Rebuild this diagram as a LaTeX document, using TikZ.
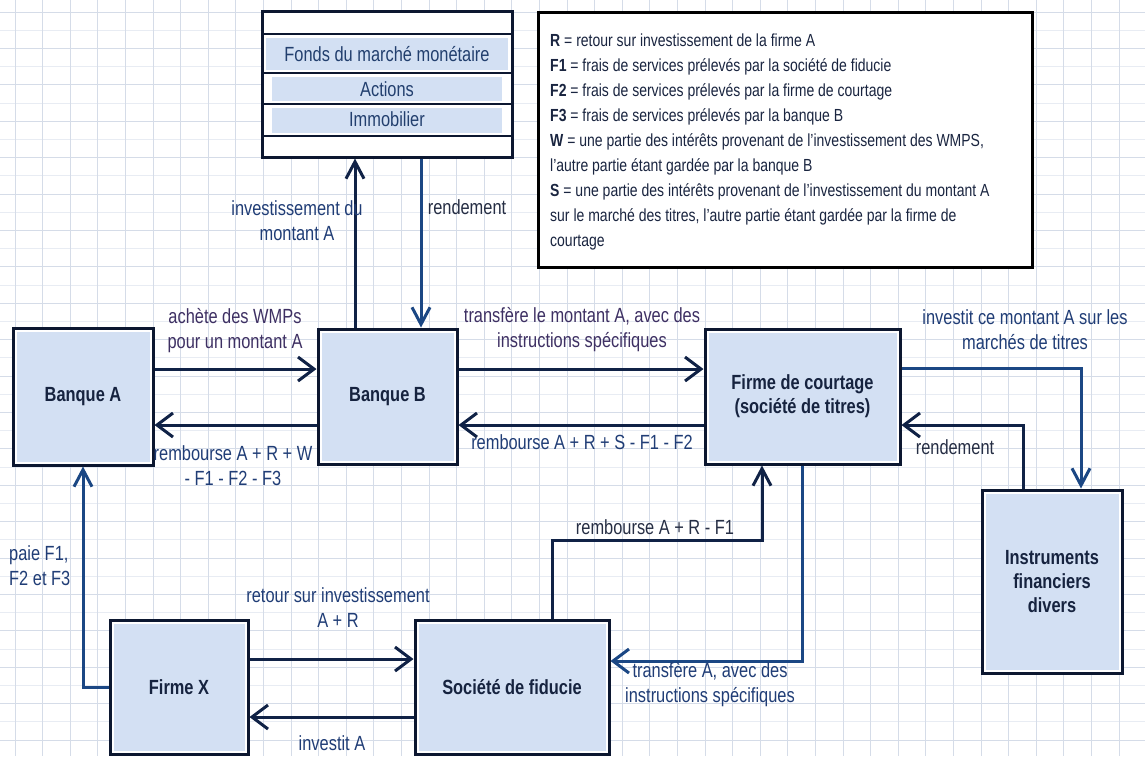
\documentclass[tikz,border=0pt]{standalone}
\usepackage{fontspec}
\setmainfont[FakeStretch=0.8]{Liberation Sans}
\usetikzlibrary{arrows.meta}
\definecolor{boxline}{HTML}{0C1730}
\definecolor{boxfill}{HTML}{D3E0F3}
\definecolor{arrowdark}{HTML}{102246}
\definecolor{arrowblue}{HTML}{1B4784}
\definecolor{nodetext}{HTML}{16233F}
\definecolor{labblue}{HTML}{203D76}
\definecolor{labpurple}{HTML}{3E3063}
\definecolor{labdark}{HTML}{262E44}
\definecolor{legtext}{HTML}{1A2540}
\definecolor{rowtext}{HTML}{223F6E}
\definecolor{gridmajor}{HTML}{D5DCE8}
\definecolor{gridminor}{HTML}{E8ECF3}

\begin{document}
\begin{tikzpicture}[x=1pt,y=-1pt,
  box/.style={draw=boxline, line width=3pt, fill=white, inner sep=0pt, align=center,
    text=nodetext, font=\fontsize{20.5}{24}\selectfont\bfseries,
    path picture={\fill[boxfill] ([xshift=3.5pt,yshift=-3.5pt]path picture bounding box.north west)
      rectangle ([xshift=-3.5pt,yshift=3.5pt]path picture bounding box.south east);}},
  conn/.style={line width=3pt, draw=arrowdark},
  connblue/.style={line width=3pt, draw=arrowblue},
  hhead/.style={-{Straight Barb[length=16pt,width=24pt,line width=3pt]}},
  vhead/.style={-{Straight Barb[length=17pt,width=18pt,line width=3pt]}},
  lab/.style={font=\fontsize{20.5}{25}\selectfont, align=center, inner sep=0pt},
  leg/.style={font=\fontsize{17.5}{20}\selectfont, anchor=base west, inner sep=0pt, text=legtext},
  rowlabel/.style={font=\fontsize{20.5}{24}\selectfont, inner sep=0pt, text=rowtext},
  gridline/.style={line width=0.8pt}
]
\useasboundingbox (0,0) rectangle (1145,756);
\fill[white] (0,0) rectangle (1145,756);

% background grid
\foreach \k in {0,...,20} {
  \draw[gridline, gridminor] (0,{30.2+36.4*\k}) -- (1145,{30.2+36.4*\k});
  \draw[gridline, gridmajor] (0,{12+36.4*\k}) -- (1145,{12+36.4*\k});
}
\foreach \k in {0,...,41} {
  \draw[gridline, gridmajor] ({15+27.6*\k},0) -- ({15+27.6*\k},756);
}

% portfolio of assets
\node[draw=boxline, line width=3pt, fill=white, minimum width=250pt, minimum height=146pt, inner sep=0pt] (port) at (387,84) {};
\fill[boxfill] (266,38) rectangle (508,70);
\fill[boxfill] (272,77) rectangle (502,101);
\fill[boxfill] (272,108) rectangle (502,133);
\draw[line width=2.8pt, boxline] (262,34) -- (512,34);
\draw[line width=2.8pt, boxline] (262,73) -- (512,73);
\draw[line width=2.8pt, boxline] (262,104) -- (512,104);
\draw[line width=2.8pt, boxline] (262,136) -- (512,136);
\node[rowlabel] (fonds) at (387,54) {Fonds du marché monétaire};
\node[rowlabel] (actions) at (387,89) {Actions};
\node[rowlabel] (immo) at (387,119) {Immobilier};

% legend
\node[draw=black, line width=3pt, fill=white, minimum width=494pt, minimum height=255pt, inner sep=0pt] (legend) at (785,139.5) {};
\node[leg] (l1) at (550,46) {\textbf{R} = retour sur investissement de la firme A};
\node[leg] (l2) at (550,71) {\textbf{F1} = frais de services prélevés par la société de fiducie};
\node[leg] (l3) at (550,96) {\textbf{F2} = frais de services prélevés par la firme de courtage};
\node[leg] (l4) at (550,121) {\textbf{F3} = frais de services prélevés par la banque B};
\node[leg] (l5) at (550,146) {\textbf{W} = une partie des intérêts provenant de l'investissement des WMPS,};
\node[leg] (l6) at (550,171) {l'autre partie étant gardée par la banque B};
\node[leg] (l7) at (550,196) {\textbf{S} = une partie des intérêts provenant de l'investissement du montant A};
\node[leg] (l8) at (550,221) {sur le marché des titres, l'autre partie étant gardée par la firme de};
\node[leg] (l9) at (550,246) {courtage};

% main actors
\node[box, minimum width=140pt, minimum height=137pt] (banqueA) at (83,396.5) {Banque A};
\node[box, minimum width=139pt, minimum height=135pt] (banqueB) at (387.5,396.5) {Banque B};
\node[box, minimum width=195pt, minimum height=135pt] (courtage) at (802.5,396.5) {Firme de courtage\\(société de titres)};
\node[box, minimum width=140pt, minimum height=183pt] (instr) at (1052,581.5) {Instruments\\financiers\\divers};
\node[box, minimum width=138pt, minimum height=134pt] (firmeX) at (179,687) {Firme X};
\node[box, minimum width=194pt, minimum height=134pt] (fiducie) at (512,687) {Société de fiducie};

\coordinate (xup) at (355,0);
\coordinate (xdown) at (421,0);

% flows between the banks
\draw[conn, hhead] ([yshift=27.5pt]banqueA.east) -- ([yshift=27.5pt]banqueB.west);
\draw[conn, hhead] ([yshift=-28.5pt]banqueB.west) -- ([yshift=-28.5pt]banqueA.east);
\draw[conn, hhead] ([yshift=27.5pt]banqueB.east) -- ([yshift=27.5pt]courtage.west);
\draw[conn, hhead] ([yshift=-28.5pt]courtage.west) -- ([yshift=-28.5pt]banqueB.east);

% bank B and the asset portfolio
\draw[conn, vhead] (banqueB.north -| xup) -- (port.south -| xup);
\draw[connblue, vhead] (port.south -| xdown) -- (banqueB.north -| xdown);

% brokerage and the markets
\draw[connblue, vhead] ([yshift=28.5pt]courtage.east) -| ([xshift=29pt]instr.north);
\draw[conn, hhead] ([xshift=-29pt]instr.north) |- ([yshift=-28.5pt]courtage.east);

% trust company and brokerage
\draw[conn, vhead] ([xshift=40pt]fiducie.north) -- ++(0,-78) -| ([xshift=-40.5pt]courtage.south);
\draw[connblue, hhead] (courtage.south) |- ([yshift=26pt]fiducie.east);

% firm X and trust company
\draw[conn, hhead] ([yshift=28pt]firmeX.east) -- ([yshift=28pt]fiducie.west);
\draw[conn, hhead] ([yshift=-30pt]fiducie.west) -- ([yshift=-30pt]firmeX.east);
\draw[connblue, vhead] (firmeX.west) -| (banqueA.south);

% flow labels
\node[lab, text=labpurple] (tAB) at (235,330.5) {achète des WMPs\\pour un montant A};
\node[lab, text=labblue] (tBA) at (233,465.5) {rembourse A + R + W\\- F1 - F2 - F3};
\node[lab, text=labpurple] (tBC) at (582,329.5) {transfère le montant A, avec des\\instructions spécifiques};
\node[lab, text=labblue] (tCB) at (582,442) {rembourse A + R + S - F1 - F2};
\node[lab, text=labblue] (tinv) at (297,220.5) {investissement du\\montant A};
\node[lab, text=labdark] (trend) at (467,207) {rendement};
\node[lab, text=labblue] (tCI) at (1025,329.5) {investit ce montant A sur les\\marchés de titres};
\node[lab, text=labdark] (tIC) at (955,447) {rendement};
\node[lab, text=labblue, align=left, anchor=west] (tpaie) at (9,565.5) {paie F1,\\F2 et F3};
\node[lab, text=labblue] (tXF) at (338,608) {retour sur investissement\\A + R};
\node[lab, text=labblue] (tFX) at (332,743) {investit A};
\node[lab, text=labdark] (tFC) at (655,527) {rembourse A + R - F1};
\node[lab, text=labblue] (tCF) at (710,684.5) {transfère A, avec des\\instructions spécifiques};
\end{tikzpicture}
\end{document}
